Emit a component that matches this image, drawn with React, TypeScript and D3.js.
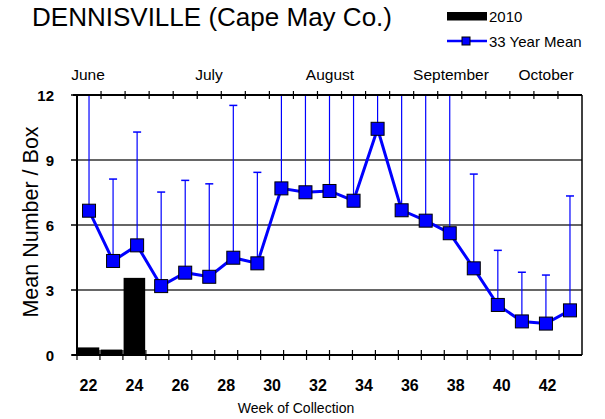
import React from "react";
import * as d3 from "d3";

const barWeeks = [22, 23, 24, 25, 26, 27, 28, 29, 30, 31, 32, 33, 34, 35, 36, 37, 38, 39, 40, 41, 42, 43];
const bars2010 = [0.35, 0.25, 3.56, null, null, null, null, null, null, null, null, null, null, null, null, null, null, null, null, null, null, null];
const lineWeeks = [22, 23, 24, 25, 26, 27, 28, 29, 30, 31, 32, 33, 34, 35, 36, 37, 38, 39, 40, 41, 42];
const meanValues = [6.66, 4.34, 5.06, 3.18, 3.8, 3.61, 4.49, 4.23, 7.69, 7.51, 7.57, 7.12, 10.44, 6.68, 6.2, 5.62, 4.0, 2.31, 1.55, 1.45, 2.06];
const upperValues = [13.5, 8.12, 10.29, 7.52, 8.06, 7.9, 11.52, 8.43, 14.5, 14.0, 14.2, 13.6, 16.0, 13.4, 13.0, 12.6, 8.35, 4.83, 3.82, 3.69, 7.34];
const yTicks = [0, 3, 6, 9, 12];
const xLabelWeeks = [22, 24, 26, 28, 30, 32, 34, 36, 38, 40, 42];
const months = ["June", "July", "August", "September", "October"];
const monthX = [88, 209, 330, 451, 546];

export default function App() {
  const L = 77, R = 582, T = 95, B = 355;
  const y = d3.scaleLinear().domain([0, 12]).range([B, T]);
  const xb = d3.scaleBand<number>().domain(barWeeks).range([L, R]).paddingInner(0.06).paddingOuter(0.03);
  const xbTicks = d3.scaleBand<number>().domain(barWeeks).range([L, R]);
  const xl = d3.scaleBand<number>().domain(lineWeeks).range([L, R]);
  const lc = (w: number) => (xl(w) as number) + xl.bandwidth() / 2;
  const line = d3.line<number>().x((_, i) => lc(lineWeeks[i])).y((d) => y(d));
  const font = "Arial, 'Liberation Sans', sans-serif";
  const sq = 13;
  return (
    <svg width={605} height={419} style={{ position: "absolute", left: 0, top: 0 }} fontFamily={font}>
      <defs>
        <clipPath id="plot"><rect x={L} y={T} width={R - L} height={B - T} /></clipPath>
      </defs>
      <rect x={0} y={0} width={605} height={419} fill="#fff" />
      <text x={32} y={26} fontSize={26} fill="#000" textLength={360} lengthAdjust="spacingAndGlyphs">DENNISVILLE (Cape May Co.)</text>
      {/* legend */}
      <rect x={447} y={12} width={40} height={8.5} fill="#000" />
      <text x={489} y={22} fontSize={15}>2010</text>
      <line x1={447} x2={487} y1={41} y2={41} stroke="#0000ff" strokeWidth={2.5} />
      <rect x={462} y={37} width={8} height={8} fill="#0000ff" stroke="#000" strokeWidth={1} />
      <text x={489} y={47} fontSize={15}>33 Year Mean</text>
      {/* months */}
      {months.map((m, i) => (
        <text key={m} x={monthX[i]} y={80} fontSize={15.5} textAnchor="middle">{m}</text>
      ))}
      {/* grid */}
      {yTicks.filter((t) => t > 0 && t < 12).map((t) => (
        <line key={t} x1={L} x2={R} y1={y(t)} y2={y(t)} stroke="#333" strokeWidth={1.5} />
      ))}
      {/* bars */}
      {barWeeks.map((w, i) => bars2010[i] == null ? null : (
        <rect key={w} x={xb(w)} y={y(bars2010[i] as number)} width={xb.bandwidth()} height={B - y(bars2010[i] as number)} fill="#000" />
      ))}
      {/* error bars */}
      <g clipPath="url(#plot)">
        {lineWeeks.map((w, i) => (
          <g key={w}>
            <line x1={lc(w)} x2={lc(w)} y1={y(meanValues[i])} y2={y(upperValues[i])} stroke="#0000ff" strokeWidth={1.2} />
            {upperValues[i] < 12 && (
              <line x1={lc(w) - 4} x2={lc(w) + 4} y1={y(upperValues[i])} y2={y(upperValues[i])} stroke="#0000ff" strokeWidth={1.5} />
            )}
          </g>
        ))}
      </g>
      {/* axes */}
      <line x1={L} x2={L} y1={T} y2={B} stroke="#000" strokeWidth={2} />
      <line x1={R} x2={R} y1={T} y2={B} stroke="#000" strokeWidth={1.5} />
      <line x1={L} x2={R} y1={T} y2={T} stroke="#000" strokeWidth={2} />
      <line x1={L - 5} x2={R} y1={B} y2={B} stroke="#000" strokeWidth={2} />
      {yTicks.map((t) => (
        <g key={t}>
          <line x1={L - 6} x2={L} y1={y(t)} y2={y(t)} stroke="#000" strokeWidth={1.5} />
          <text x={L - 23} y={y(t) + 5.5} fontSize={15} fontWeight="bold" textAnchor="end">{t}</text>
        </g>
      ))}
      {barWeeks.slice(1).map((w) => (
        <line key={w} x1={xbTicks(w)} x2={xbTicks(w)} y1={B - 5} y2={B + 5} stroke="#000" strokeWidth={1.2} />
      ))}
      <line x1={L} x2={L} y1={B} y2={B + 5} stroke="#000" strokeWidth={1.2} />
      {lineWeeks.slice(1).map((w) => (
        <line key={w} x1={xl(w)} x2={xl(w)} y1={T - 4} y2={T + 4} stroke="#000" strokeWidth={1.2} />
      ))}
      <line x1={L - 4} x2={L} y1={T} y2={T} stroke="#000" strokeWidth={2} />
      {xLabelWeeks.map((w) => (
        <text key={w} x={(xbTicks(w) as number) + xbTicks.bandwidth() / 2} y={391} fontSize={16} fontWeight="bold" textAnchor="middle">{w}</text>
      ))}
      <text x={296} y={413} fontSize={14} textAnchor="middle">Week of Collection</text>
      <text transform={`translate(38,${(T + B) / 2 - 3}) rotate(-90)`} fontSize={21.5} textAnchor="middle">Mean Number / Box</text>
      {/* mean line */}
      <path d={line(meanValues) || ""} fill="none" stroke="#0000ff" strokeWidth={3} />
      {lineWeeks.map((w, i) => (
        <rect key={w} x={lc(w) - sq / 2} y={y(meanValues[i]) - sq / 2} width={sq} height={sq} fill="#0000ff" stroke="#000" strokeWidth={1} />
      ))}
    </svg>
  );
}
